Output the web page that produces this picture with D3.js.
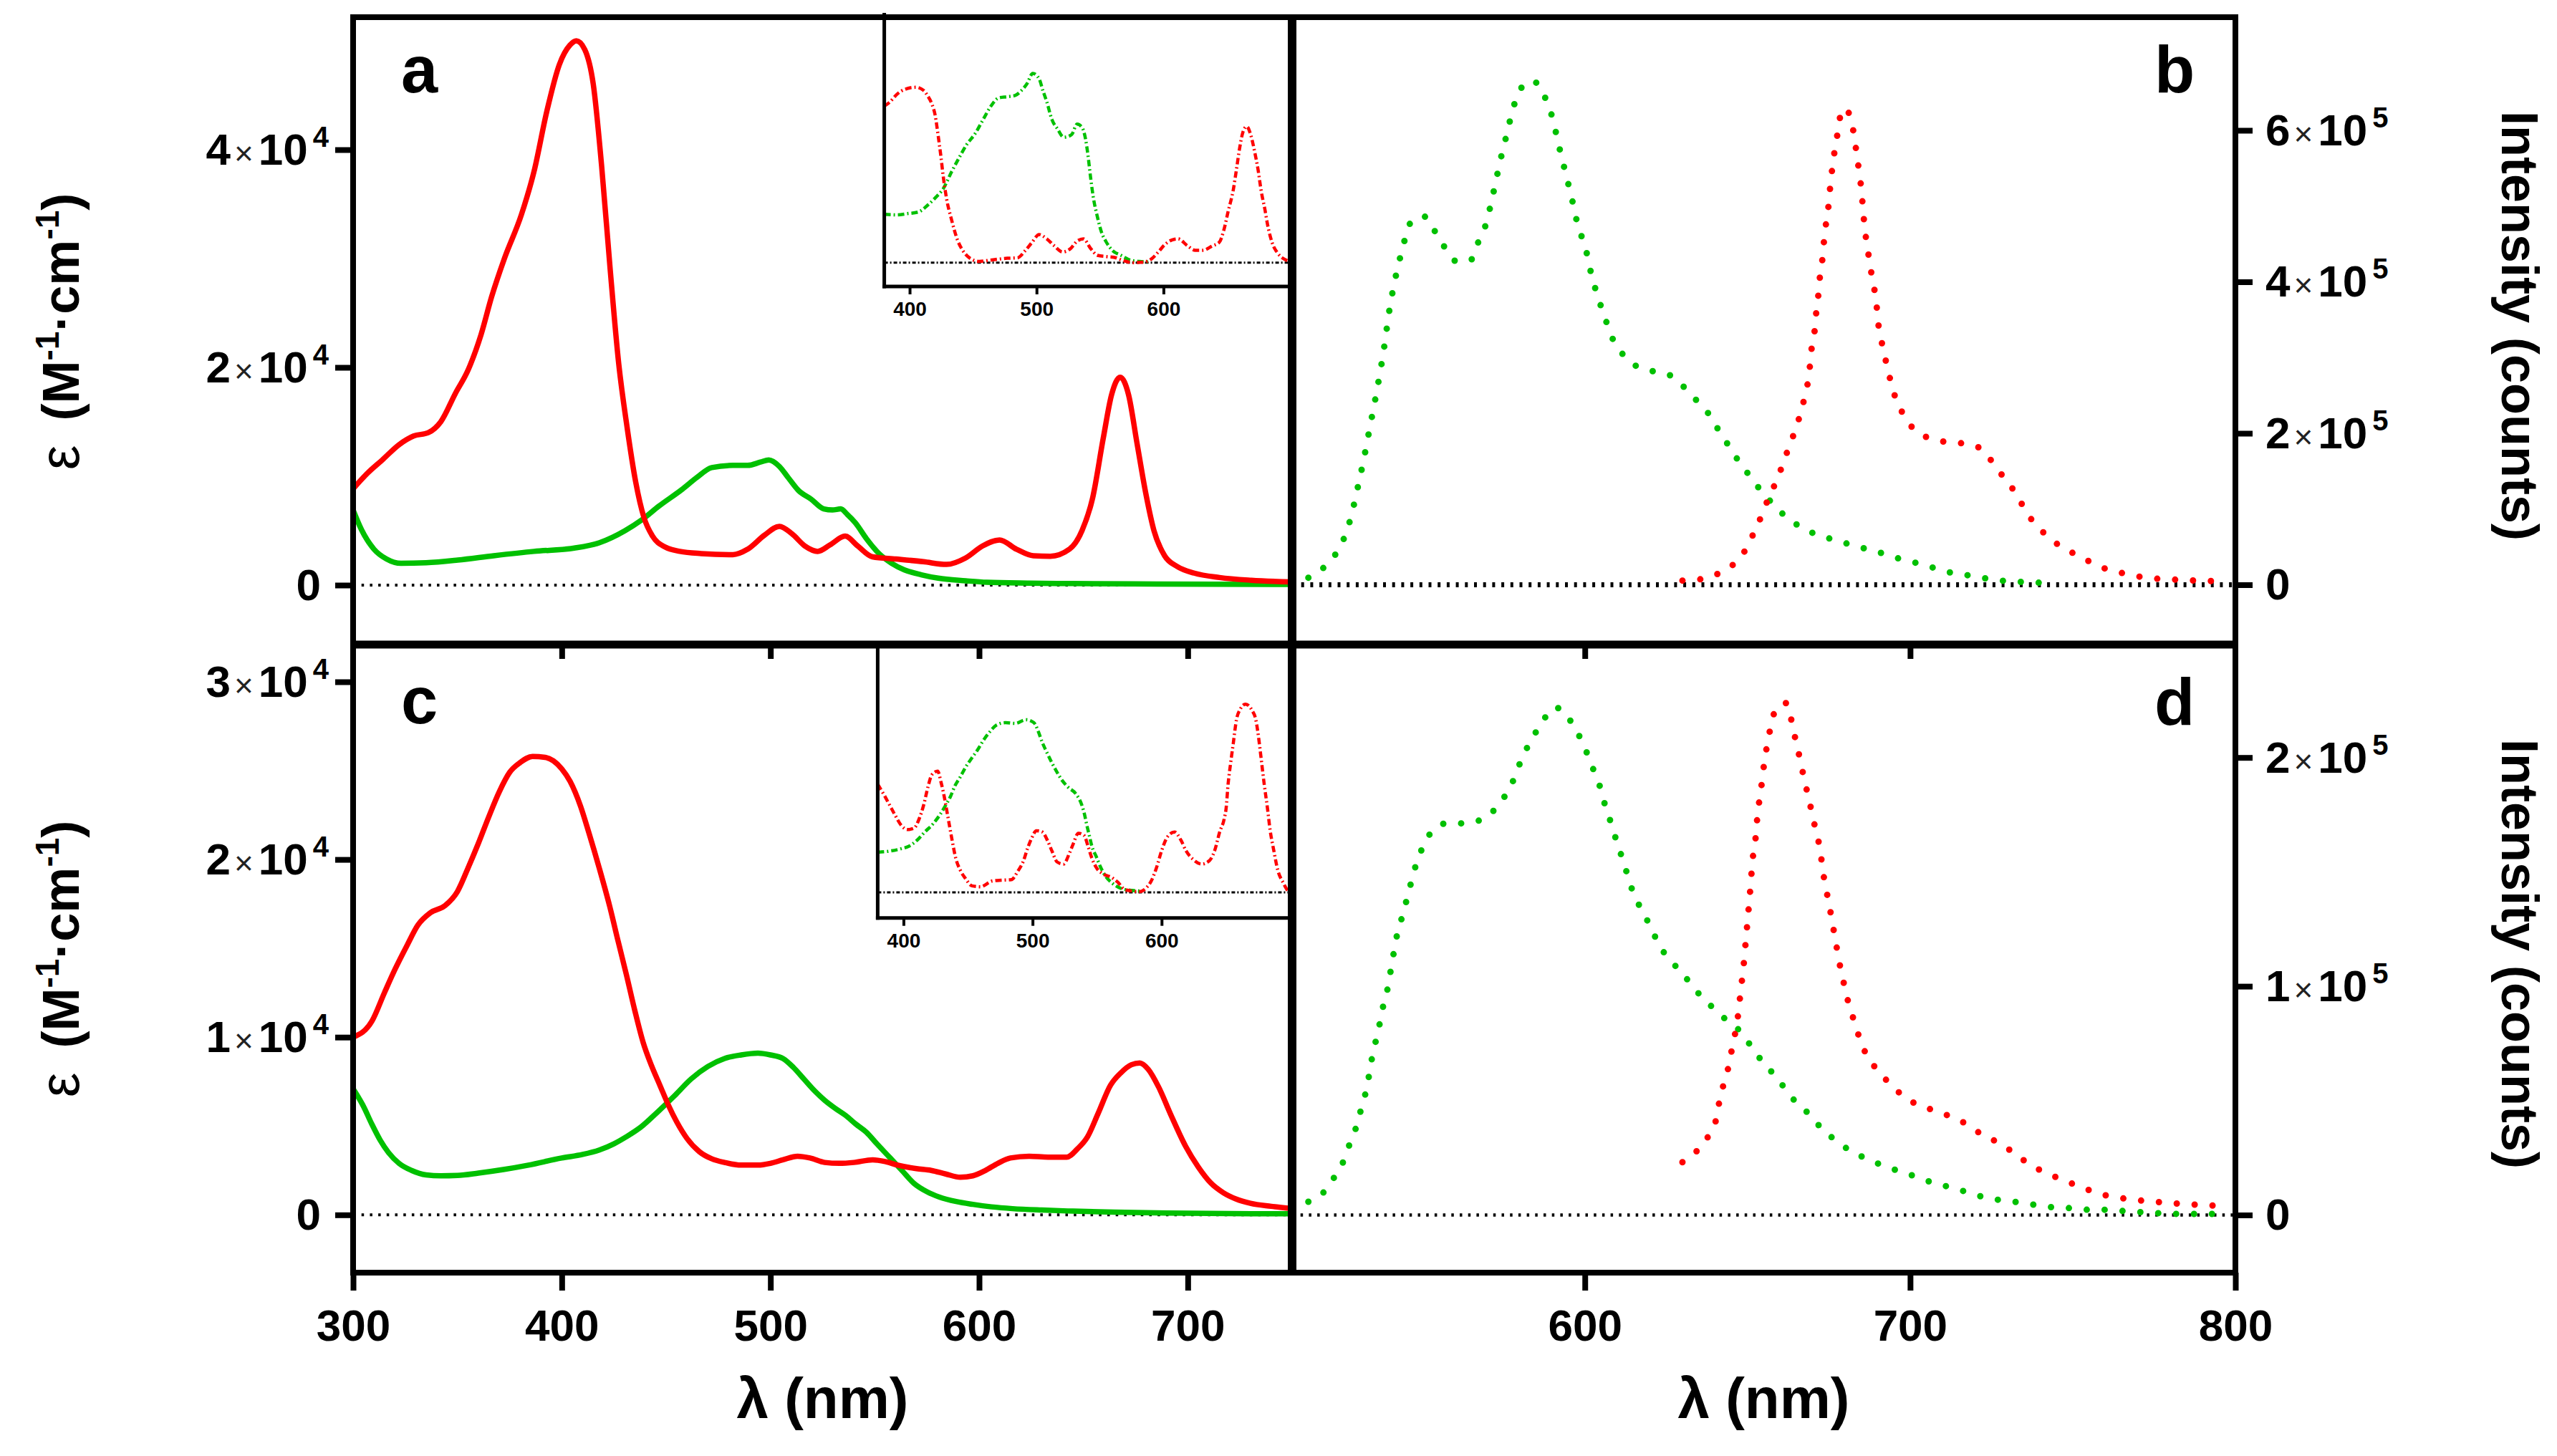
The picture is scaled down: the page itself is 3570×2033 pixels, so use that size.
<!DOCTYPE html>
<html>
<head>
<meta charset="utf-8">
<script src="https://cdn.jsdelivr.net/npm/d3@7"></script>
<style>
  body { margin: 0; background: #fff; }
  svg { display: block; }
  text { font-family: "Liberation Sans", Arial, Helvetica, sans-serif; }
</style>
</head>
<body>
<svg id="fig" width="3570" height="2033"></svg>
<script>
// ---- data: [wavelength nm, value] ----
// panel a : absorption (epsilon), solid lines
const absA_red = [[300,8850],[307,10300],[314,11500],[322,12900],[329,13700],[336,14000],[342,15000],[349,17600],[355.2,19800],[361.3,23000],[366.4,26500],[372.5,30000],[380.6,34000],[386.7,38000],[392.8,43500],[398.8,47800],[403.9,49600],[407,50000],[411,49200],[415.1,46000],[419.1,38500],[423.2,29000],[427.2,20500],[431.3,14500],[435.4,9500],[439.4,6200],[443.5,4500],[449.5,3500],[456.6,3100],[466.8,2900],[482,2800],[489.1,3300],[497.2,4600],[504.3,5400],[510.4,4700],[516.5,3600],[522.6,3100],[528.6,3700],[535.8,4500],[541.8,3600],[548.9,2600],[560.1,2400],[573.3,2150],[584.4,1900],[593.6,2500],[601.7,3600],[609.8,4150],[617.9,3300],[626,2700],[634.1,2650],[643.3,3300],[649.3,5000],[654.4,8000],[659.5,13500],[663.5,17500],[667.6,19100],[671.6,17500],[675.7,13000],[679.8,8500],[683.8,5000],[688.9,2700],[695,1700],[703.1,1100],[715.2,700],[730.4,450],[750,300]];
const absA_green = [[300,6900],[304,5100],[310,3300],[316,2400],[323,2000],[335,2050],[350.2,2300],[367.4,2700],[386.7,3100],[406,3400],[418.1,3900],[430.3,5000],[438.4,6000],[446.5,7250],[457.7,8800],[464.8,9900],[471.9,10800],[482,11000],[489.1,11000],[495.2,11300],[499.2,11500],[504.3,10900],[508.4,9900],[513.4,8700],[519.5,7900],[525.6,7000],[529.7,6900],[533.7,7000],[536.8,6500],[540.8,5700],[545.9,4300],[552,2900],[558.1,2000],[564.2,1400],[572.3,950],[580.4,640],[593.6,400],[603.7,260],[624,180],[644.3,140],[684.8,100],[750,70]];
// panel a inset (relative scale)
const insA_red = [[380,0.645],[384,0.66],[390,0.694],[396,0.714],[405,0.723],[411,0.71],[414,0.689],[417.5,0.654],[420,0.61],[422.5,0.522],[424.5,0.443],[426.5,0.354],[429,0.266],[433,0.177],[438,0.089],[442,0.049],[447,0.02],[455,0.005],[463,0.01],[477,0.018],[485,0.02],[491,0.049],[496.5,0.084],[502,0.116],[508,0.098],[514,0.069],[520.5,0.044],[527,0.059],[532,0.089],[537,0.098],[542.5,0.059],[548,0.03],[555,0.025],[561,0.022],[567.5,0.01],[576,0],[584,0.002],[590.5,0.015],[596,0.044],[601,0.074],[607,0.094],[611.5,0.098],[619,0.069],[625,0.051],[631,0.051],[638.5,0.069],[644,0.084],[647.5,0.133],[651,0.212],[655,0.3],[657.5,0.384],[660,0.472],[662.5,0.536],[665.5,0.561],[669,0.522],[672,0.453],[674.5,0.384],[677,0.295],[680,0.217],[682,0.157],[685.5,0.084],[690,0.039],[695,0.015],[700,0.005]];
const insA_green = [[380,0.199],[390,0.197],[398,0.202],[407,0.209],[414,0.236],[420,0.266],[426.5,0.305],[433,0.374],[438,0.423],[445,0.487],[451.5,0.531],[458,0.591],[464,0.645],[470,0.679],[477,0.684],[483,0.689],[488,0.709],[492.5,0.738],[497,0.78],[502,0.758],[505,0.709],[508,0.664],[512,0.591],[516.5,0.551],[521.5,0.517],[527.5,0.527],[532,0.571],[536,0.556],[538.5,0.512],[540.5,0.443],[542.5,0.354],[544.5,0.276],[548,0.187],[551,0.128],[555,0.084],[560,0.049],[566.5,0.03],[574,0.01],[581,0.005],[590,0.003]];

// panel b : emission intensity (counts), dotted
const emB_green = [[515,9300],[519,20000],[522,33000],[525,52000],[528,88000],[530,125000],[532,165000],[534,210000],[536,255000],[538,305000],[540,365000],[542,410000],[544,445000],[546,475000],[548,484000],[551,486000],[554,466000],[557,445000],[561,426000],[565,429000],[567,450000],[569.5,475000],[572,520000],[574,560000],[576,595000],[578,630000],[580,652000],[582,664000],[585,663000],[588,641000],[590,617000],[592,580000],[594,545000],[596,510000],[598,472000],[600,448000],[602,410000],[604,380000],[606,355000],[608,330000],[611,308000],[615,291000],[620,283000],[626,277000],[630,263000],[634,245000],[638,226000],[641,205000],[644,185000],[647,165000],[651,142000],[654,125000],[658,106000],[662,89000],[667,75000],[672,65000],[678,58000],[683,51000],[689,45000],[694,37600],[700,31000],[706,24000],[711,17400],[717,13100],[722,9300],[728,5500],[734,3800],[740,2700],[745,2200]];
const emB_red = [[630,5500],[636,7600],[641,14700],[646,28300],[649.5,47000],[652,69000],[654.5,93000],[656.5,115000],[659,138000],[661,161000],[663,185000],[665,208000],[666.7,233000],[668,256000],[669,280000],[669.5,305000],[670.5,329000],[671,354000],[671.7,379000],[672.2,404000],[673,429000],[673.5,453000],[674.2,479000],[675,504000],[675.5,529000],[676.2,554000],[677,579000],[678,603000],[678.8,625000],[680,629000],[681.3,621000],[682.5,600000],[683.5,571000],[684.3,546000],[685,522000],[685.5,497000],[686,472000],[686.8,448000],[687.6,424000],[688.6,399000],[689.6,373000],[690.1,349000],[691.1,324000],[692.3,300000],[693.6,276000],[695.1,252000],[697.4,229000],[700.6,208000],[705,195000],[709,190000],[714.5,187500],[720,183700],[724,169000],[727.3,150000],[731,130000],[734,109000],[737,88000],[741,69000],[745,54500],[750,42000],[755,31000],[760,21300],[766,14700],[771,10400],[777,7600],[783,6500],[788,5500],[794,4900]];

// panel c : absorption (epsilon), solid lines
const absC_red = [[300,10000],[309,10900],[315,12500],[320,13800],[326,15200],[331,16300],[337,17000],[344,17400],[350,18200],[355,19500],[360,20900],[365,22400],[370,23800],[375,24900],[380,25450],[386,25800],[392,25750],[396,25550],[400,25100],[404,24400],[409,23000],[413,21500],[418,19500],[423,17350],[427,15400],[431,13500],[435,11500],[439,9700],[443,8400],[447,7300],[451,6200],[455,5250],[460,4300],[466,3550],[472,3150],[478,2950],[486,2800],[494,2800],[500,2900],[506,3100],[513,3300],[519,3200],[526,2950],[533,2900],[540,2950],[549,3100],[555,3000],[561,2800],[570,2600],[577,2500],[584,2300],[591,2120],[597,2200],[603,2500],[609,2900],[615,3200],[624,3300],[633,3250],[642,3250],[647,3700],[652,4400],[657,5700],[663,7300],[668,8000],[673,8450],[677,8550],[681,8200],[686,7200],[692,5600],[699,3850],[705,2700],[711,1800],[717,1250],[723,900],[730,650],[740,480],[750,350]];
const absC_green = [[300,7100],[305,6100],[309,5100],[313,4200],[317,3500],[322,2900],[328,2500],[335,2250],[342,2200],[350,2220],[360,2350],[372,2550],[384,2800],[400,3200],[410,3400],[418,3650],[425,4000],[431,4400],[438,4950],[446,5800],[454,6700],[462,7650],[470,8350],[478,8800],[486,9000],[494,9100],[500,9000],[506,8800],[511,8300],[516,7650],[521,7000],[526,6450],[531,6000],[536,5600],[541,5100],[546,4650],[551,4000],[557,3250],[563,2500],[569,1750],[575,1300],[581,1000],[589,750],[597,590],[606,450],[616,350],[630,270],[645,210],[665,150],[690,100],[720,70],[750,60]];
// panel c inset (relative scale)
const insC_red = [[380,0.444],[385,0.4],[389.5,0.356],[393.5,0.317],[398,0.277],[403,0.258],[408,0.263],[412.5,0.307],[415.5,0.356],[419,0.434],[422,0.483],[426.5,0.498],[429,0.454],[431.5,0.395],[434.5,0.307],[437.5,0.219],[440.5,0.14],[444,0.091],[448,0.057],[453,0.027],[459.5,0.023],[469,0.047],[476,0.05],[483.5,0.052],[488.5,0.086],[493,0.13],[496,0.179],[499,0.219],[503,0.253],[507.5,0.248],[511.5,0.214],[515,0.17],[519,0.125],[524,0.116],[528.5,0.16],[531.5,0.199],[535.5,0.243],[540,0.233],[543,0.189],[546,0.14],[549.5,0.101],[554.5,0.076],[561,0.062],[566,0.042],[571,0.013],[577.5,0.005],[583,0.003],[588,0.018],[592,0.047],[596,0.101],[600.5,0.179],[604.5,0.228],[610,0.248],[615,0.214],[619,0.17],[624.5,0.135],[631,0.116],[637,0.13],[641,0.17],[645,0.248],[648.5,0.302],[650,0.346],[651.5,0.444],[653.5,0.532],[655.5,0.611],[658,0.709],[661,0.753],[665,0.773],[670,0.748],[673,0.709],[675.5,0.621],[677.5,0.532],[679.5,0.444],[682,0.346],[684,0.258],[687,0.17],[690,0.091],[694,0.042],[698.5,0.003],[700,0]];
const insC_green = [[380,0.165],[390,0.17],[398,0.179],[404,0.189],[410.5,0.214],[416.5,0.248],[423,0.282],[428,0.317],[432.5,0.356],[436.5,0.395],[440,0.439],[444,0.474],[448,0.513],[453,0.552],[457.5,0.586],[461.5,0.621],[467,0.66],[472,0.687],[479,0.697],[486.5,0.694],[495,0.709],[501,0.697],[504.5,0.66],[507.5,0.616],[510.5,0.581],[515,0.532],[519,0.493],[523,0.459],[527.5,0.432],[533.5,0.405],[538,0.361],[540,0.326],[542,0.277],[544,0.233],[546,0.189],[549.5,0.145],[552.5,0.106],[556.5,0.067],[562,0.037],[569,0.015],[577.5,0.008],[584,0.005]];

// panel d : emission intensity (counts), dotted
const emD_green = [[515,5800],[520,10400],[523,16600],[526,24200],[528,32300],[530,39700],[531.5,48000],[533,55800],[534,64100],[535,72000],[536.5,80300],[537.5,88400],[539,96400],[540,104300],[541,112600],[542,120700],[543.5,128700],[545,136600],[546.5,144900],[548,152700],[550,160300],[553,167700],[557.5,171200],[562.5,171200],[569.5,173700],[573.5,179500],[577,186900],[581,200700],[584,208800],[587,215700],[590.5,221900],[593.5,220300],[596,215000],[598.5,208800],[601,200700],[603,193300],[605,185700],[606.5,177600],[608.5,169600],[610,162000],[612,154100],[613.5,146500],[615.5,138900],[618.5,130800],[621,123400],[623.5,116500],[627,110300],[631,103800],[634.5,97600],[638.5,91800],[642.5,86500],[647,81400],[650.5,75000],[654,68100],[658,61600],[661.5,55400],[665,49100],[669.5,43400],[673,37400],[677.5,32300],[682,27700],[687.5,24200],[693,20800],[698.5,18500],[703.5,15700],[709,13400],[715,11100],[720,8800],[726,6900],[732,5800],[737.5,4600],[743,3500],[749,3000],[755,2300],[761,2300],[766.5,1600],[772,1150],[778,700],[784,460],[797,460]];
const emD_red = [[630,23100],[634.5,28100],[638,34600],[640.5,42700],[641.5,50800],[643,58800],[644.5,66900],[645.5,75000],[646.7,83100],[647.4,91100],[648,99200],[648.7,107300],[649.2,115400],[649.7,123400],[650.2,131500],[650.7,139600],[651.2,148800],[651.7,156900],[652.5,165000],[653,173500],[653.7,181800],[654.5,189900],[655.2,198400],[656.2,206500],[657.3,214600],[659,221900],[662,223800],[663.6,215700],[664.8,207600],[666.1,199600],[667.3,191500],[668.6,183400],[669.9,175300],[671.1,167300],[672.4,159200],[673.1,151100],[674.1,143000],[675.2,135000],[676.2,126900],[677.2,118800],[678.2,110700],[679.4,102700],[680.7,94600],[682.4,86500],[684.2,78400],[686.3,70800],[689.5,64100],[693.3,58100],[697.4,52600],[702,48400],[707.4,45700],[713,42700],[718,39200],[722.6,34600],[728,31100],[732.4,26500],[737.5,21500],[742,18300],[747.5,15000],[753,12000],[758.4,9200],[764,7600],[769.7,6500],[775.3,5800],[781,5100],[786.6,4600],[792.4,4200],[798,3500]];

// ---- ticks ----
const xTicksLeft = [300, 400, 500, 600, 700];
const xTicksRight = [600, 700, 800];
const xTicksInset = [400, 500, 600];
const yTicksA = [0, 20000, 40000];
const yTicksB = [0, 200000, 400000, 600000];
const yTicksC = [0, 10000, 20000, 30000];
const yTicksD = [0, 100000, 200000];

const RED = "#ff0000", GREEN = "#00c000";

// ---- layout ----
const L = 493, M = 1804, R = 3121, T = 24, MID = 900, B = 1777;

const xL = d3.scaleLinear([300, 750], [L, M]);
const xR = d3.scaleLinear([510, 800], [M, R]);
const yA = d3.scaleLinear([0, 40000], [817, 209]);
const yB = d3.scaleLinear([0, 600000], [816.5, 182]);
const yC = d3.scaleLinear([0, 30000], [1696.3, 952]);
const yD = d3.scaleLinear([0, 200000], [1696.5, 1057.7]);
const xInA = d3.scaleLinear([380, 700], [1234.6, 1801.6]);
const yInA = d3.scaleLinear([0, 1], [366.7, 28]);
const xInC = d3.scaleLinear([380, 700], [1225.4, 1802]);
const yInC = d3.scaleLinear([0, 1], [1246, 906]);

const svg = d3.select("#fig");
svg.append("rect").attr("width", 3570).attr("height", 2033).attr("fill", "#fff");

const defs = svg.append("defs");
function clip(id, x0, y0, x1, y1) {
  defs.append("clipPath").attr("id", id).append("rect")
    .attr("x", x0).attr("y", y0).attr("width", x1 - x0).attr("height", y1 - y0);
  return `url(#${id})`;
}
const clipA = clip("cA", L, T, M, MID);
const clipB = clip("cB", M, T, R, MID);
const clipC = clip("cC", L, MID, M, B);
const clipD = clip("cD", M, MID, R, B);

const styles = {
  solid:  { w: 7.5, dash: null, cap: "round" },
  dots:   { w: 9, dash: "0 25", cap: "round" },
  inset:  { w: 4.5, dash: "9 4 2 4", cap: "butt" },
  base:   { w: 4, dash: "3.5 8.2", cap: "butt" },
  baseB:  { w: 7, dash: "4 8.7", cap: "butt" },
  baseD:  { w: 4.5, dash: "3.5 8.2", cap: "butt" },
  baseIn: { w: 3, dash: "5 3 2 3", cap: "butt" }
};

function curve(g, data, x, y, color, st, clipUrl) {
  const line = d3.line().x(d => x(d[0])).y(d => y(d[1])).curve(d3.curveMonotoneX);
  g.append("path").datum(data)
    .attr("d", line)
    .attr("fill", "none")
    .attr("stroke", color)
    .attr("stroke-width", st.w)
    .attr("stroke-linecap", st.cap)
    .attr("stroke-linejoin", "round")
    .attr("stroke-dasharray", st.dash)
    .attr("clip-path", clipUrl);
}

// zero lines from each scale's x-domain
function zeroLine(g, x, y, st, clipUrl) {
  curve(g, x.domain().map(v => [v, 0]), x, y, "#000", st, clipUrl);
}

const plot = svg.append("g");

// main curves
zeroLine(plot, xL, yA, styles.base, clipA);
curve(plot, absA_green, xL, yA, GREEN, styles.solid, clipA);
curve(plot, absA_red, xL, yA, RED, styles.solid, clipA);

zeroLine(plot, xR, yB, styles.baseB, clipB);
curve(plot, emB_green, xR, yB, GREEN, styles.dots, clipB);
curve(plot, emB_red, xR, yB, RED, styles.dots, clipB);

zeroLine(plot, xL, yC, styles.base, clipC);
curve(plot, absC_green, xL, yC, GREEN, styles.solid, clipC);
curve(plot, absC_red, xL, yC, RED, styles.solid, clipC);

zeroLine(plot, xR, yD, styles.baseD, clipD);
curve(plot, emD_green, xR, yD, GREEN, styles.dots, clipD);
curve(plot, emD_red, xR, yD, RED, styles.dots, clipD);

// ---- insets ----
function inset(xs, ys, red, green, bottom) {
  const [x0, x1] = xs.range();
  const top = ys(1) - 4;
  const g = svg.append("g");
  g.append("rect").attr("x", x0).attr("y", top).attr("width", x1 - x0).attr("height", bottom - top)
    .attr("fill", "#fff").attr("stroke", "#888").attr("stroke-width", 1.5);
  const id = "ci" + Math.round(x0);
  const cu = clip(id, x0, top, x1, bottom);
  zeroLine(g, xs, ys, styles.baseIn, cu);
  curve(g, green, xs, ys, GREEN, styles.inset, cu);
  curve(g, red, xs, ys, RED, styles.inset, cu);
  g.append("line").attr("x1", x0).attr("x2", x0).attr("y1", top - 6).attr("y2", bottom + 2.5)
    .attr("stroke", "#000").attr("stroke-width", 5);
  const ax = g.append("g").attr("transform", `translate(0,${bottom})`)
    .call(d3.axisBottom(xs).tickValues(xTicksInset).tickSize(11).tickSizeOuter(0));
  ax.select(".domain").attr("stroke-width", 5).attr("d", `M${x0 - 2.5},0H${x1 + 2}`);
  ax.selectAll(".tick line").attr("stroke-width", 4);
  ax.selectAll(".tick text").attr("y", 41).attr("dy", 0)
    .attr("font-size", 28).attr("font-weight", "bold")
    .attr("font-family", '"Liberation Sans", Arial, sans-serif');
}
inset(xInA, yInA, insA_red, insA_green, 400);
inset(xInC, yInC, insC_red, insC_green, 1281.7);

// ---- frames ----
const frame = svg.append("g").attr("stroke", "#000").attr("fill", "none");
frame.append("path").attr("stroke-width", 8)
  .attr("d", `M${L},${T}H${R}V${B}H${L}Z`);
frame.append("line").attr("x1", M).attr("x2", M).attr("y1", T).attr("y2", B).attr("stroke-width", 12);
frame.append("line").attr("x1", L).attr("x2", R).attr("y1", MID).attr("y2", MID).attr("stroke-width", 11);

// ---- axes ----
const FONT = '"Liberation Sans", Arial, sans-serif';

function sciLabel(t, v) {
  t.text(null);
  if (v === 0) { t.append("tspan").text("0"); return; }
  const e = Math.floor(Math.log10(v) + 1e-9);
  const m = Math.round(v / Math.pow(10, e));
  t.append("tspan").text(m);
  t.append("tspan").attr("dx", 5).attr("font-size", 46).attr("font-weight", "normal").attr("fill", "#222").text("\u00d7");
  t.append("tspan").attr("dx", 7).text("10");
  t.append("tspan").attr("dx", 7).attr("dy", -25).attr("font-size", 40).text(e);
}

function styleAxis(g) {
  g.attr("font-size", 62).attr("font-family", FONT).attr("font-weight", "bold");
  g.select(".domain").remove();
  g.selectAll(".tick line").attr("stroke-width", 8);
}

function leftAxis(y, ticks) {
  const g = svg.append("g").attr("transform", `translate(${L},0)`)
    .call(d3.axisLeft(y).tickValues(ticks).tickSize(25).tickSizeOuter(0));
  styleAxis(g);
  g.selectAll(".tick text").attr("dy", "0.33em")
    .attr("x", d => d === 0 ? -45 : -34)
    .each(function (d) { sciLabel(d3.select(this), d); });
}
function rightAxis(y, ticks) {
  const g = svg.append("g").attr("transform", `translate(${R},0)`)
    .call(d3.axisRight(y).tickValues(ticks).tickSize(24).tickSizeOuter(0));
  styleAxis(g);
  g.selectAll(".tick text").attr("dy", "0.33em").attr("x", 42)
    .each(function (d) { sciLabel(d3.select(this), d); });
}
function bottomAxis(x, ticks, yPos, labels) {
  const g = svg.append("g").attr("transform", `translate(0,${yPos})`)
    .call(d3.axisBottom(x).tickValues(ticks).tickSize(labels ? 25 : 20).tickSizeOuter(0));
  styleAxis(g);
  if (labels) g.selectAll(".tick text").attr("y", 95).attr("dy", 0);
  else g.selectAll(".tick text").remove();
}

leftAxis(yA, yTicksA);
leftAxis(yC, yTicksC);
rightAxis(yB, yTicksB);
rightAxis(yD, yTicksD);
bottomAxis(xL, xTicksLeft.slice(1), MID, false);
bottomAxis(xR, xTicksRight.slice(0, 2), MID, false);
bottomAxis(xL, xTicksLeft, B, true);
bottomAxis(xR, xTicksRight, B, true);

// ---- titles ----
const titles = svg.append("g").attr("font-family", FONT).attr("font-weight", "bold").attr("fill", "#000");

function epsTitle(cy) {
  const t = titles.append("text").attr("transform", `translate(110,${cy}) rotate(-90)`)
    .attr("text-anchor", "middle").attr("font-size", 72);
  t.append("tspan").attr("font-weight", "normal").attr("font-size", 78).text("\u03b5");
  t.append("tspan").attr("dx", 34).text("(M");
  t.append("tspan").attr("dy", -28).attr("font-size", 46).text("-1");
  t.append("tspan").attr("dy", 28).text("\u00b7cm");
  t.append("tspan").attr("dy", -28).attr("font-size", 46).text("-1");
  t.append("tspan").attr("dy", 28).text(")");
}
epsTitle(463);
epsTitle(1339);

function intTitle(cy) {
  titles.append("text").attr("transform", `translate(3493,${cy}) rotate(90)`)
    .attr("text-anchor", "middle").attr("font-size", 72).text("Intensity (counts)");
}
intTitle(455);
intTitle(1332);

titles.append("text").attr("x", (L + M) / 2).attr("y", 1980).attr("text-anchor", "middle")
  .attr("font-size", 80).text("\u03bb (nm)");
titles.append("text").attr("x", (M + R) / 2).attr("y", 1980).attr("text-anchor", "middle")
  .attr("font-size", 80).text("\u03bb (nm)");

// panel letters
const letters = [["a", 560, 129], ["b", 3008, 129], ["c", 560, 1010], ["d", 3008, 1012]];
titles.selectAll(".panel-letter").data(letters).enter().append("text")
  .attr("class", "panel-letter")
  .attr("x", d => d[1]).attr("y", d => d[2]).attr("font-size", 92).text(d => d[0]);
</script>
</body>
</html>
